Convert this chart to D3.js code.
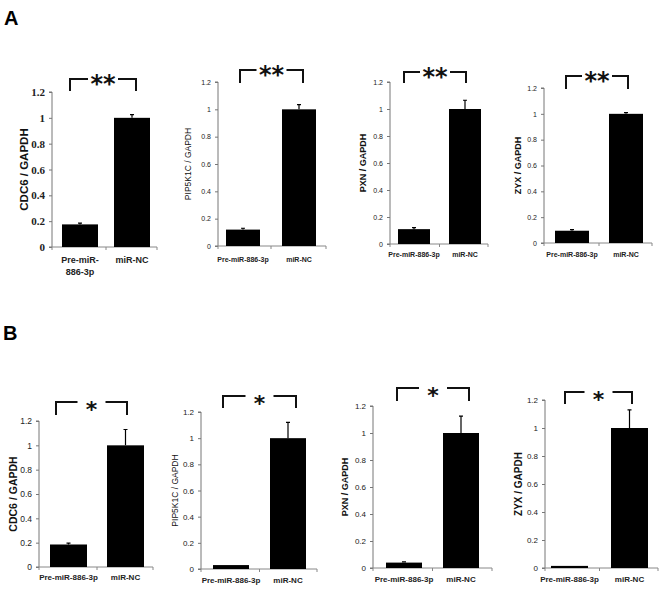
<!DOCTYPE html>
<html>
<head>
<meta charset="utf-8">
<script src="https://cdn.jsdelivr.net/npm/d3@7"></script>
<style>
    body { margin: 0; background: #fff; }
    svg { display: block; }
</style>
</head>
<body>
<div id="chart"></div>
<script>
// ============================================
// qPCR bar panels - miR-886-3p targets
// ============================================

const groups = ['Pre-miR-886-3p', 'miR-NC'];
const genes = ['CDC6', 'PIP5K1C', 'PXN', 'ZYX'];
const yTicks = [0, 0.2, 0.4, 0.6, 0.8, 1, 1.2];

// row A
const meansA = [[0.175, 1.0], [0.12, 1.0], [0.11, 1.0], [0.095, 1.0]];
const errorsA = [[0.01, 0.025], [0.01, 0.035], [0.012, 0.065], [0.008, 0.01]];
const markA = '**';

// row B
const meansB = [[0.185, 1.0], [0.03, 1.0], [0.04, 1.0], [0.015, 1.0]];
const errorsB = [[0.012, 0.13], [0, 0.12], [0.005, 0.125], [0, 0.13]];
const markB = '*';

// panel placement (pixels)
const layoutA = [
    { ax: 52, ex: 157, top: 92, bot: 247, bars: [62, 150], bw: 36, br: [70, 136, 79, 12], gap: 15, lx: 24, tf: 11, serif: true, lf: 11.5, lb: true, xf: 9, xy: 263, split: true },
    { ax: 218, ex: 326, top: 82, bot: 246, bars: [226, 316], bw: 34, br: [240, 303, 70, 13], gap: 15, lx: 188, tf: 7, lf: 8.5, lb: false, xf: 7, xy: 262 },
    { ax: 390, ex: 488, top: 82, bot: 244, bars: [398, 481], bw: 32, br: [404, 466, 72, 11], gap: 15, lx: 363, tf: 7, lf: 9, lb: true, xf: 7, xy: 257 },
    { ax: 544, ex: 652, top: 88, bot: 243, bars: [555, 643], bw: 34, br: [566, 628, 76, 13], gap: 15, lx: 518, tf: 7, lf: 9, lb: true, xf: 7, xy: 257 }
];
const layoutB = [
    { ax: 39, ex: 153, top: 421, bot: 567, bars: [50, 144], bw: 37, br: [56, 127, 402, 13], gap: 14, lx: 13, tf: 8.5, lf: 10.5, lb: true, xf: 8, xy: 580 },
    { ax: 201, ex: 317, top: 412, bot: 569, bars: [213, 306], bw: 36, br: [223, 296, 396, 12], gap: 14, lx: 175, tf: 8, lf: 8.5, lb: false, xf: 8, xy: 583 },
    { ax: 373, ex: 492, top: 406, bot: 568, bars: [386, 479], bw: 36, br: [397, 469, 388, 13], gap: 14, lx: 345, tf: 8, lf: 9, lb: true, xf: 8, xy: 582 },
    { ax: 545, ex: 658, top: 400, bot: 568, bars: [551, 648], bw: 37, br: [565, 632, 392, 12], gap: 14, lx: 518, tf: 8, lf: 10, lb: true, xf: 8, xy: 582 }
];

const width = 662;
const height = 589;

const svg = d3.select('#chart')
    .append('svg')
    .attr('width', width)
    .attr('height', height);

// Panel letters
svg.append('text').attr('x', 4).attr('y', 25).text('A')
    .style('font', 'bold 20px "Liberation Sans", Arial, sans-serif');
svg.append('text').attr('x', 3).attr('y', 340).text('B')
    .style('font', 'bold 20px "Liberation Sans", Arial, sans-serif');

function drawPanel(gene, means, errors, L, mark) {
    const g = svg.append('g');
    const W = L.bars[1] - L.bars[0];
    const pad = (W - 2 * L.bw) / (W - L.bw);

    const x = d3.scaleBand()
        .domain(groups)
        .range(L.bars)
        .paddingInner(pad)
        .paddingOuter(0);

    const y = d3.scaleLinear()
        .domain([0, 1.2])
        .range([L.bot, L.top]);

    const tickFont = L.serif
        ? `bold ${L.tf}px "Liberation Serif", "Times New Roman", serif`
        : `${L.tf}px "Liberation Sans", Arial, sans-serif`;

    // Y axis
    const yAxis = g.append('g')
        .attr('transform', `translate(${L.ax},0)`)
        .call(d3.axisLeft(y).tickValues(yTicks).tickSize(3).tickPadding(4)
            .tickFormat(d => d3.format('')(+d.toFixed(1))));
    yAxis.select('.domain').attr('stroke', '#777').attr('d', `M-3,${L.bot}H0V${L.top}H-3`);
    yAxis.selectAll('.tick line').attr('stroke', '#777');
    yAxis.selectAll('.tick text')
        .style('font', tickFont)
        .attr('fill', '#222');

    // X axis line with boundary ticks
    const mid = (x(groups[0]) + x.bandwidth() + x(groups[1])) / 2;
    g.append('path')
        .attr('d', `M${L.ax},${L.bot}H${L.ex}M${L.ax},${L.bot}v3M${mid},${L.bot}v3M${L.ex},${L.bot}v3`)
        .attr('stroke', '#888')
        .attr('fill', 'none');

    // Bars
    g.selectAll('rect.bar')
        .data(groups)
        .join('rect')
        .attr('class', 'bar')
        .attr('x', d => x(d))
        .attr('y', (d, i) => y(means[i]))
        .attr('width', x.bandwidth())
        .attr('height', (d, i) => L.bot - y(means[i]))
        .attr('fill', '#000');

    // Error bars (upper only)
    groups.forEach((grp, i) => {
        if (!errors[i]) return;
        const cx = x(grp) + x.bandwidth() / 2;
        const y0 = y(means[i]);
        const y1 = y(means[i] + errors[i]);
        g.append('path')
            .attr('d', `M${cx},${y0}V${y1}M${cx - 2},${y1}H${cx + 2}`)
            .attr('stroke', '#000')
            .attr('stroke-width', 1.2)
            .attr('fill', 'none');
    });

    // Significance bracket
    const [bl, bri, by, drop] = L.br;
    const bc = (bl + bri) / 2;
    const dbl = mark.length > 1;
    g.append('path')
        .attr('d', `M${bl},${by + drop}V${by}H${bc - L.gap}M${bc + L.gap},${by}H${bri}V${by + drop}`)
        .attr('stroke', '#111')
        .attr('stroke-width', 2)
        .attr('fill', 'none');
    g.append('text')
        .attr('x', bc)
        .attr('y', by + (dbl ? 13 : 15))
        .attr('text-anchor', 'middle')
        .text(mark)
        .style('font', `bold ${dbl ? 24 : 22}px "DejaVu Sans", sans-serif`)
        .attr('fill', '#111');

    // Y label
    g.append('text')
        .attr('transform', `translate(${L.lx},${(L.top + L.bot) / 2}) rotate(-90)`)
        .attr('text-anchor', 'middle')
        .attr('dy', '0.35em')
        .text(`${gene} / GAPDH`)
        .style('font', `${L.lb ? 'bold ' : ''}${L.lf}px "Liberation Sans", Arial, sans-serif`)
        .attr('fill', '#111');

    // X labels
    const xl = g.append('g')
        .style('font', `bold ${L.xf}px "Liberation Sans", Arial, sans-serif`)
        .attr('fill', '#222');
    groups.forEach(grp => {
        const cx = x(grp) + x.bandwidth() / 2;
        if (L.split && grp === groups[0]) {
            xl.append('text').attr('x', cx).attr('y', L.xy).attr('text-anchor', 'middle').text('Pre-miR-');
            xl.append('text').attr('x', cx).attr('y', L.xy + 12).attr('text-anchor', 'middle').text('886-3p');
        } else {
            xl.append('text').attr('x', cx).attr('y', L.xy).attr('text-anchor', 'middle').text(grp);
        }
    });
}

genes.forEach((gene, i) => drawPanel(gene, meansA[i], errorsA[i], layoutA[i], markA));
genes.forEach((gene, i) => drawPanel(gene, meansB[i], errorsB[i], layoutB[i], markB));
</script>
</body>
</html>
